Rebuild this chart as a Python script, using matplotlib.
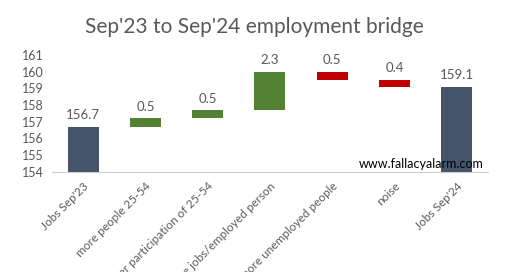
import matplotlib
matplotlib.use("Agg")
import matplotlib.pyplot as plt

# bridge steps
categories = ["Jobs Sep'23", "more people 25-54", "higher participation of 25-54",
              "more jobs/employed person", "more unemployed people", "noise", "Jobs Sep'24"]
start_jobs = 156.7
changes = [0.5, 0.5, 2.3, -0.5, -0.4]
end_jobs = 159.1
labels = ["156.7", "0.5", "0.5", "2.3", "0.5", "0.4", "159.1"]

navy = "#44546A"
green = "#548235"
red = "#C00000"
grey = "#595959"

plt.rcParams['font.family'] = ['Lato', 'DejaVu Sans']

fig = plt.figure(figsize=(5.2, 2.72), dpi=100)
ax = fig.add_axes([0.1, 0.368, 0.838, 0.43])

bottoms = [154]
heights = [start_jobs - 154]
colors = [navy]
level = start_jobs
for c in changes:
    if c >= 0:
        bottoms.append(level)
        heights.append(c)
        colors.append(green)
    else:
        bottoms.append(level + c)
        heights.append(-c)
        colors.append(red)
    level += c
bottoms.append(154)
heights.append(end_jobs - 154)
colors.append(navy)

x = range(len(categories))
ax.bar(x, heights, bottom=bottoms, width=0.5, color=colors)
for i in x:
    top = bottoms[i] + heights[i]
    ax.annotate(labels[i], (i, top), xytext=(0, 4), textcoords="offset points",
                ha="center", va="bottom", fontsize=9.5, color=grey)

ax.set_xlim(-0.5, 6.5)
ax.set_ylim(154, 161)
ax.set_yticks(range(154, 162))
ax.set_xticks(list(x))
ax.set_xticklabels(categories, rotation=45, ha="right", rotation_mode="anchor",
                   fontsize=8.5, color=grey)
ax.tick_params(axis="y", length=0, labelsize=9, labelcolor=grey, pad=6)
ax.tick_params(axis="x", length=0, pad=6)
for s in ["top", "right", "left"]:
    ax.spines[s].set_visible(False)
ax.spines["bottom"].set_color("#D0D0D0")

fig.text(0.49, 0.9, "Sep'23 to Sep'24 employment bridge", ha="center", va="center",
         fontsize=15, color=grey)
ax.text(0.99, 0.02, "www.fallacyalarm.com", transform=ax.transAxes, ha="right", va="bottom",
        fontsize=9, color="black", zorder=5)

plt.savefig("out.png", dpi=100)
